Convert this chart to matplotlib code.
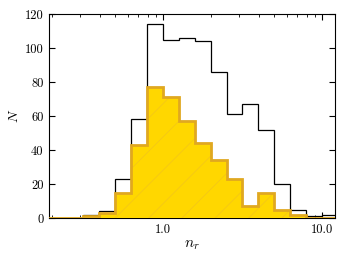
import numpy as np
import matplotlib
matplotlib.use("Agg")
from matplotlib import pyplot as plt
from matplotlib.ticker import FixedLocator, NullFormatter, LogLocator

# log10 bin edges (0.1 dex wide)
log_edges = [-0.8, -0.7, -0.6, -0.5, -0.4, -0.3, -0.2, -0.1, 0.0, 0.1, 0.2,
             0.3, 0.4, 0.5, 0.6, 0.7, 0.8, 0.9, 1.0, 1.1]
counts_all = [0, 0, 0, 2, 4, 23, 58, 114, 105, 106, 104,
              86, 61, 67, 52, 20, 5, 1, 2]
counts_sel = [0, 0, 0, 1, 3, 15, 43, 77, 71, 57, 44,
              34, 23, 7, 15, 5, 2, 0, 0]
xticks = [1.0, 10.0]
xticklabels = ["1.0", "10.0"]
yticks = [0, 20, 40, 60, 80, 100, 120]

plt.rcParams["font.family"] = "cmr10"
plt.rcParams["mathtext.fontset"] = "cm"
plt.rcParams["axes.unicode_minus"] = False
plt.rcParams["hatch.linewidth"] = 0.4

edges = 10 ** np.array(log_edges)
centers = np.sqrt(edges[:-1] * edges[1:])

fig = plt.figure(figsize=(3.43, 2.64), dpi=100)
ax = fig.add_axes([0.143, 0.174, 0.834, 0.773])

ax.hist(centers, bins=edges, weights=counts_all, histtype="step",
        color="black", lw=0.9, zorder=2)
# filled + hatched body, then thick outline
ax.hist(centers, bins=edges, weights=counts_sel, histtype="stepfilled",
        facecolor="#FFD700", edgecolor="#F0C020", lw=0, hatch="/", zorder=3)
ax.hist(centers, bins=edges, weights=counts_sel, histtype="step",
        color="#E0A820", lw=2.0, zorder=4)

ax.set_xscale("log")
ax.set_xlim(0.192, 12.1)
ax.set_ylim(0, 120)

ax.xaxis.set_major_locator(FixedLocator(xticks))
ax.set_xticklabels(xticklabels)
ax.xaxis.set_minor_locator(LogLocator(base=10, subs=np.arange(2, 10)))
ax.xaxis.set_minor_formatter(NullFormatter())
ax.set_yticks(yticks)

ax.tick_params(which="both", direction="in", top=True, right=True, labelsize=9)
ax.tick_params(which="major", length=4, width=0.8, pad=4)
ax.tick_params(which="minor", length=2.5, width=0.6)

ax.set_xlabel(r"$n_r$", fontsize=11, labelpad=2)
ax.set_ylabel(r"$N$", fontsize=10, labelpad=3)

plt.savefig("out.png", dpi=100)
